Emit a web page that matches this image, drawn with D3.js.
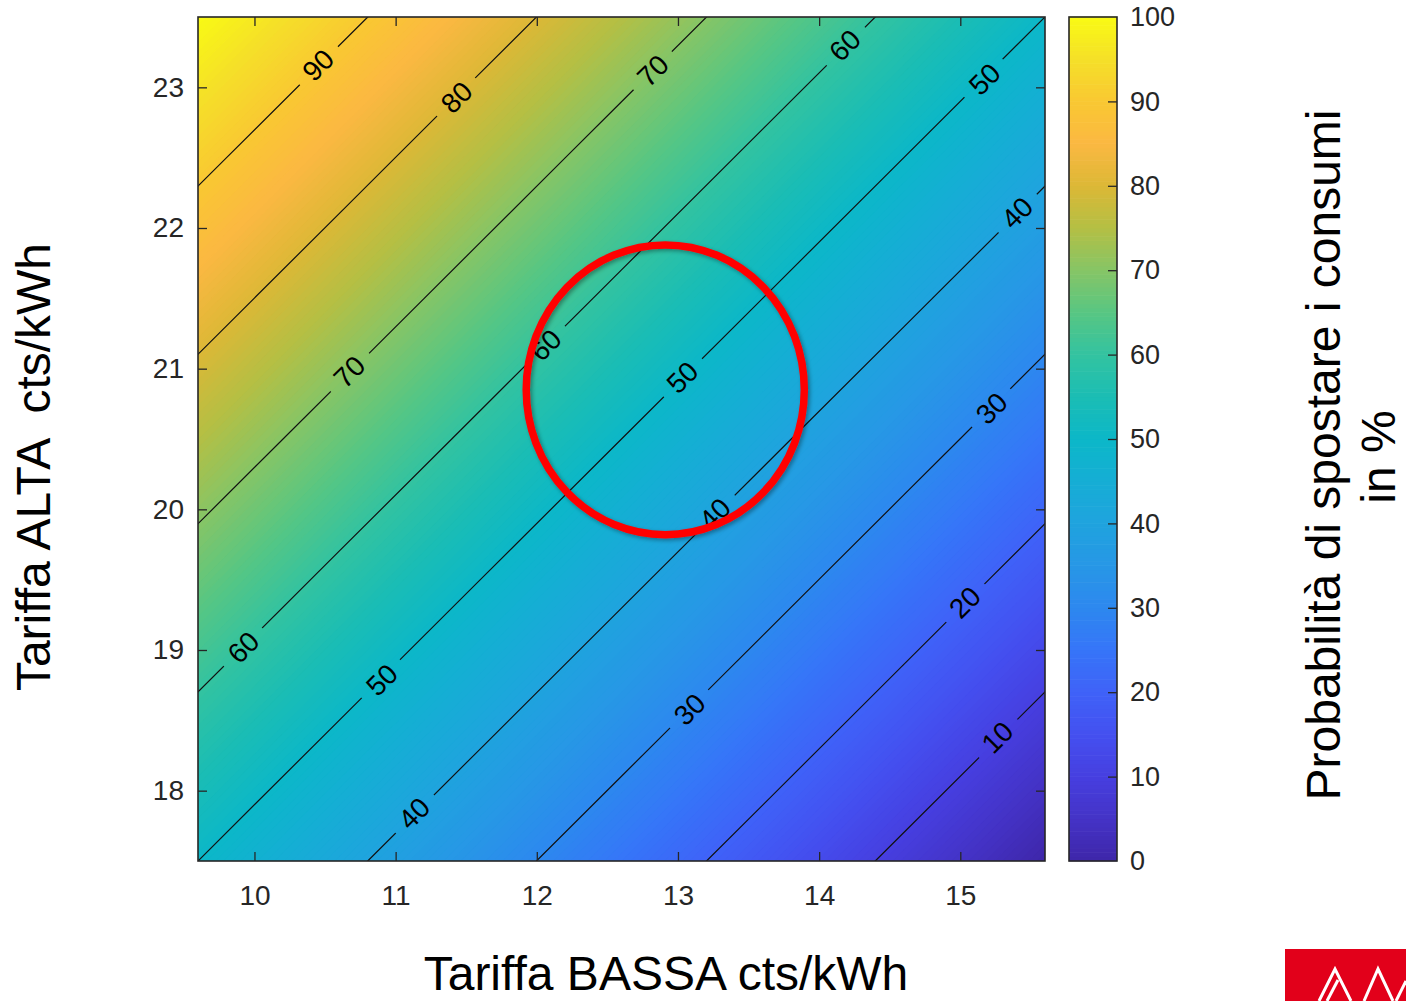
<!DOCTYPE html>
<html><head><meta charset="utf-8">
<script src="https://cdn.jsdelivr.net/npm/d3@7"></script>
<style>
body{margin:0;background:#fff;}
svg{display:block;}
text{font-family:"Liberation Sans",Arial,Helvetica,sans-serif;}
</style>
</head><body>
<svg id="chart" width="1406" height="1001"></svg>
<script>
// ---------- data ----------
const gridX = [9.6, 10.6, 11.6, 12.6, 13.6, 14.6, 15.6];      // Tariffa BASSA
const gridY = [23.5, 22.5, 21.5, 20.5, 19.5, 18.5, 17.5];     // Tariffa ALTA (top to bottom)
const gridRow23_5 = [100, 91.7, 83.3, 75, 66.7, 58.3, 50];
const gridRow22_5 = [91.7, 83.3, 75, 66.7, 58.3, 50, 41.7];
const gridRow21_5 = [83.3, 75, 66.7, 58.3, 50, 41.7, 33.3];
const gridRow20_5 = [75, 66.7, 58.3, 50, 41.7, 33.3, 25];
const gridRow19_5 = [66.7, 58.3, 50, 41.7, 33.3, 25, 16.7];
const gridRow18_5 = [58.3, 50, 41.7, 33.3, 25, 16.7, 8.3];
const gridRow17_5 = [50, 41.7, 33.3, 25, 16.7, 8.3, 0];
const gridValues = [gridRow23_5, gridRow22_5, gridRow21_5, gridRow20_5, gridRow19_5, gridRow18_5, gridRow17_5];

const contourLevels = [10, 20, 30, 40, 50, 60, 70, 80, 90];
const labelLevels = [90, 80, 70, 60, 50, 40, 30, 20, 10, 70, 60, 50, 40, 60, 50, 40, 30];
const labelX = [10.45, 11.43, 12.82, 14.18, 15.17, 15.40, 15.22, 15.03, 15.26, 10.67, 12.06, 13.03, 13.26, 9.92, 10.90, 11.13, 13.08];
const labelY = [23.16, 22.93, 23.12, 23.30, 23.06, 22.11, 20.72, 19.34, 18.38, 20.98, 21.17, 20.94, 19.97, 19.02, 18.79, 17.84, 18.58];

const xTicks = [10, 11, 12, 13, 14, 15];
const yTicks = [18, 19, 20, 21, 22, 23];
const cbTicks = [0, 10, 20, 30, 40, 50, 60, 70, 80, 90, 100];

const xTitle = "Tariffa BASSA cts/kWh";
const yTitle = "Tariffa ALTA  cts/kWh";
const cbTitle1 = "Probabilità di spostare i consumi";
const cbTitle2 = "in %";

// highlighted zone (centre and radii, data units)
const circleCenter = [12.91, 20.85];
const circleRadii = [0.985, 1.03];

// parula-like colormap stops
const colorStopPos = [0, 0.05, 0.10, 0.15, 0.20, 0.25, 0.30, 0.35, 0.40, 0.45, 0.50, 0.55, 0.60, 0.65, 0.70, 0.75, 0.80, 0.85, 0.90, 0.95, 1.0];
const colorStopCol = ["#3e26a8","#4433c6","#463fe0","#4450f0","#3f62f8","#3675f8","#2d88ef","#2797e6","#1fa3de","#15aed5","#0cb7c8","#1bbdb4","#33c3a0","#58c682","#86c566","#b4bf44","#dcb836","#fbb842","#f9c832","#f5e028","#f9fa14"];

// ---------- layout ----------
const svg = d3.select("#chart");
const plot = {left: 198, right: 1045, top: 17, bottom: 861};
const cb = {left: 1069, right: 1117};

const x = d3.scaleLinear().domain([9.6, 15.6]).range([plot.left, plot.right]);
const y = d3.scaleLinear().domain([17.5, 23.5]).range([plot.bottom, plot.top]);
const cbScale = d3.scaleLinear().domain([0, 100]).range([plot.bottom, plot.top]);
const color = d3.scaleLinear().domain(colorStopPos.map(p => p * 100)).range(colorStopCol)
  .interpolate(d3.interpolateRgb).clamp(true);

const defs = svg.append("defs");
defs.append("clipPath").attr("id", "plotClip")
  .append("rect").attr("x", plot.left).attr("y", plot.top)
  .attr("width", plot.right - plot.left).attr("height", plot.bottom - plot.top);

const filt = defs.append("filter").attr("id", "shadow").attr("x", "-20%").attr("y", "-20%").attr("width", "140%").attr("height", "140%");
filt.append("feDropShadow").attr("dx", 2).attr("dy", 2).attr("stdDeviation", 2).attr("flood-color", "#000").attr("flood-opacity", 0.35);

// contour grid -> data coordinates
const nx = gridX.length, ny = gridY.length;
const stepX = gridX[1] - gridX[0], stepY = gridY[1] - gridY[0];
const proj = d3.geoTransform({
  point: function(cx, cy) {
    this.stream.point(x(gridX[0] + (cx - 0.5) * stepX), y(gridY[0] + (cy - 0.5) * stepY));
  }
});
const path = d3.geoPath(proj);
const flat = gridValues.flat();

// filled smooth field
const bandStep = 0.5;
const bands = d3.contours().size([nx, ny]).thresholds(d3.range(0, 100, bandStep))(flat);
const gField = svg.append("g").attr("clip-path", "url(#plotClip)");
gField.append("rect").attr("x", plot.left).attr("y", plot.top)
  .attr("width", plot.right - plot.left).attr("height", plot.bottom - plot.top)
  .attr("fill", color(0));
gField.selectAll("path.band").data(bands).join("path")
  .attr("class", "band")
  .attr("d", path)
  .attr("fill", d => color(d.value + bandStep / 2))
  .attr("stroke", d => color(d.value + bandStep / 2))
  .attr("stroke-width", 0.8);

// label gaps mask
const mask = defs.append("mask").attr("id", "labelMask").attr("maskUnits", "userSpaceOnUse")
  .attr("x", 0).attr("y", 0).attr("width", 1406).attr("height", 1001);
mask.append("rect").attr("x", 0).attr("y", 0).attr("width", 1406).attr("height", 1001).attr("fill", "#fff");
const labels = labelLevels.map((v, i) => ({v, x: labelX[i], y: labelY[i]}));
mask.selectAll("rect.gap").data(labels).join("rect")
  .attr("class", "gap")
  .attr("x", -27).attr("y", -14).attr("width", 54).attr("height", 28)
  .attr("fill", "#000")
  .attr("transform", d => `translate(${x(d.x)},${y(d.y)}) rotate(-45)`);

// contour lines
const lines = d3.contours().size([nx, ny]).thresholds(contourLevels)(flat);
svg.append("g").attr("clip-path", "url(#plotClip)")
  .append("g").attr("mask", "url(#labelMask)")
  .selectAll("path").data(lines).join("path")
  .attr("d", path)
  .attr("fill", "none")
  .attr("stroke", "#111")
  .attr("stroke-width", 1.2);

// contour labels
svg.append("g").selectAll("text").data(labels).join("text")
  .attr("transform", d => `translate(${x(d.x)},${y(d.y)}) rotate(-45)`)
  .attr("text-anchor", "middle")
  .attr("dy", "0.36em")
  .attr("font-size", 28)
  .attr("fill", "#000")
  .text(d => d.v);

// axes frame
const axisColor = "#262626";
svg.append("rect").attr("x", plot.left).attr("y", plot.top)
  .attr("width", plot.right - plot.left).attr("height", plot.bottom - plot.top)
  .attr("fill", "none").attr("stroke", axisColor).attr("stroke-width", 1.6);

function styleAxis(g) {
  g.select(".domain").remove();
  g.selectAll(".tick line").attr("stroke", axisColor).attr("stroke-width", 1.3);
  g.selectAll(".tick text").attr("fill", axisColor).attr("font-size", 28)
    .attr("font-family", '"Liberation Sans", Arial, Helvetica, sans-serif');
}
svg.append("g").attr("transform", `translate(0,${plot.bottom})`)
  .call(d3.axisBottom(x).tickValues(xTicks).tickSize(-9).tickPadding(24).tickFormat(d3.format("d")))
  .call(styleAxis);
svg.append("g").attr("transform", `translate(0,${plot.top})`)
  .call(d3.axisTop(x).tickValues(xTicks).tickSize(-9).tickFormat(""))
  .call(styleAxis);
svg.append("g").attr("transform", `translate(${plot.left},0)`)
  .call(d3.axisLeft(y).tickValues(yTicks).tickSize(-9).tickPadding(14).tickFormat(d3.format("d")))
  .call(styleAxis);
svg.append("g").attr("transform", `translate(${plot.right},0)`)
  .call(d3.axisRight(y).tickValues(yTicks).tickSize(-9).tickFormat(""))
  .call(styleAxis);

// colorbar
const cbSteps = d3.range(0, 100, 0.5);
svg.append("g").selectAll("rect").data(cbSteps).join("rect")
  .attr("x", cb.left).attr("width", cb.right - cb.left)
  .attr("y", d => cbScale(d + 0.5) - 0.3)
  .attr("height", d => cbScale(d) - cbScale(d + 0.5) + 0.6)
  .attr("fill", d => color(d + 0.25));
svg.append("rect").attr("x", cb.left).attr("y", plot.top)
  .attr("width", cb.right - cb.left).attr("height", plot.bottom - plot.top)
  .attr("fill", "none").attr("stroke", axisColor).attr("stroke-width", 1.6);
svg.append("g").attr("transform", `translate(${cb.right},0)`)
  .call(d3.axisRight(cbScale).tickValues(cbTicks).tickSize(-9).tickPadding(13).tickFormat(d3.format("d")))
  .call(g => {
    styleAxis(g);
    g.selectAll(".tick line").filter(d => d === 0 || d === 100).remove();
    g.selectAll(".tick text").attr("font-size", 27);
  });

// highlight ellipse
svg.append("ellipse")
  .attr("cx", x(circleCenter[0])).attr("cy", y(circleCenter[1]))
  .attr("rx", x(circleCenter[0] + circleRadii[0]) - x(circleCenter[0]))
  .attr("ry", y(circleCenter[1]) - y(circleCenter[1] + circleRadii[1]))
  .attr("fill", "none").attr("stroke", "#ff0000").attr("stroke-width", 7.5)
  .attr("filter", "url(#shadow)");

// titles
svg.append("text").attr("x", 666).attr("y", 990)
  .attr("text-anchor", "middle").attr("font-size", 48).attr("fill", "#000").text(xTitle);
svg.append("text").attr("transform", `translate(50,467) rotate(-90)`)
  .attr("text-anchor", "middle").attr("font-size", 48).attr("fill", "#000")
  .style("white-space", "pre").text(yTitle);
svg.append("text").attr("transform", `translate(1340,455) rotate(-90)`)
  .attr("text-anchor", "middle").attr("font-size", 48).attr("fill", "#000").text(cbTitle1);
svg.append("text").attr("transform", `translate(1395,457) rotate(-90)`)
  .attr("text-anchor", "middle").attr("font-size", 48).attr("fill", "#000").text(cbTitle2);

// logo (bottom right)
const logo = svg.append("g");
logo.append("rect").attr("x", 1285).attr("y", 949).attr("width", 121).attr("height", 52).attr("fill", "#e2001a");
const logoPaths = ["M1319,1001 L1335,969 L1351,1001", "M1327,1001 L1338,980", "M1364,1001 L1378,969 L1393,1001", "M1396,1001 L1406,981"];
logo.selectAll("path").data(logoPaths).join("path")
  .attr("d", d => d).attr("fill", "none").attr("stroke", "#fff").attr("stroke-width", 3);
</script>
</body></html>
